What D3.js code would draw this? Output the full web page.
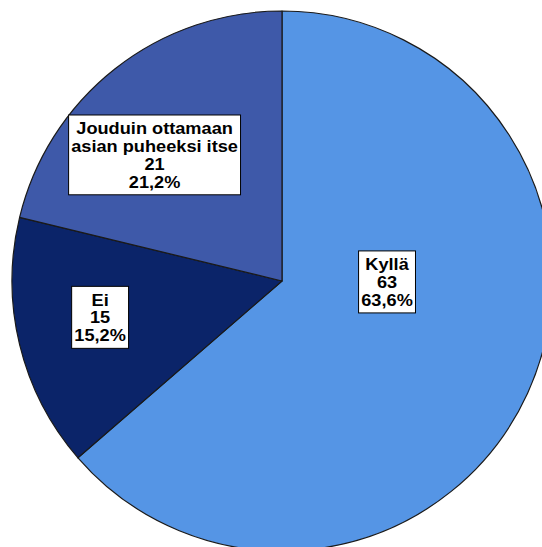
<!DOCTYPE html>
<html>
<head>
<meta charset="utf-8">
<script src="https://cdn.jsdelivr.net/npm/d3@7"></script>
<style>
  html, body { margin: 0; padding: 0; background: #fff; }
  svg { display: block; }
</style>
</head>
<body>
<svg id="chart" width="542" height="547"></svg>
<script>
// Answers and counts
const categories = ["Kyllä", "Ei", "Jouduin ottamaan asian puheeksi itse"];
const counts = [63, 15, 21];
const percentLabels = ["63,6%", "15,2%", "21,2%"];
const labelLines = [["Kyllä"], ["Ei"], ["Jouduin ottamaan", "asian puheeksi itse"]];

// Slice fills
const colors = d3.scaleOrdinal()
  .domain(categories)
  .range(["#5595e5", "#0b2469", "#3e59a9"]);

// Label anchor: angle (degrees clockwise from top) and fraction of radius
const labelPlacement = {
  "Kyllä": { angle: 90.5, frac: 0.389 },
  "Ei": { angle: 258.7, frac: 0.687 },
  "Jouduin ottamaan asian puheeksi itse": { angle: 314.7, frac: 0.664 }
};

const svg = d3.select("#chart");
const cx = 282, cy = 281, radius = 270;

const data = categories.map((c, i) => ({ category: c, value: counts[i], pct: percentLabels[i], lines: labelLines[i] }));

const pie = d3.pie().value(d => d.value).sort(null);
const arc = d3.arc().innerRadius(0).outerRadius(radius);

const g = svg.append("g").attr("transform", `translate(${cx},${cy})`);

g.selectAll("path.slice")
  .data(pie(data))
  .join("path")
  .attr("class", "slice")
  .attr("d", arc)
  .attr("fill", d => colors(d.data.category))
  .attr("stroke", "#1a1a1a")
  .attr("stroke-width", 1.2)
  .attr("stroke-linejoin", "round");

// Labels in white boxes
const fontSize = 17;
const lineH = 17.8;
const stretchX = 1.07;
const labels = g.selectAll("g.label")
  .data(pie(data))
  .join("g")
  .attr("class", "label")
  .attr("transform", d => {
    const p = labelPlacement[d.data.category];
    const a = p.angle * Math.PI / 180;
    const r = p.frac * radius;
    return `translate(${r * Math.sin(a)},${-r * Math.cos(a)})`;
  });

labels.each(function(d) {
  const sel = d3.select(this);
  const lines = [...d.data.lines, String(d.data.value), d.data.pct];
  const n = lines.length;
  const box = sel.append("rect")
    .attr("fill", "#fff")
    .attr("stroke", "#000")
    .attr("stroke-width", 1);
  const text = sel.append("text")
    .attr("text-anchor", "middle")
    .attr("transform", `scale(${stretchX},1)`)
    .attr("font-family", "Arial, 'Liberation Sans', sans-serif")
    .attr("font-weight", "bold")
    .attr("font-size", fontSize + "px")
    .attr("fill", "#000");
  lines.forEach((t, i) => {
    text.append("tspan")
      .attr("x", 0)
      .attr("y", (i - (n - 1) / 2) * lineH)
      .attr("dy", "0.36em")
      .text(t);
  });
  const bb = text.node().getBBox();
  const w = bb.width * stretchX;
  const padX = 2.5, padY = 4.3;
  box.attr("x", -w / 2 - padX)
    .attr("y", -(n * lineH) / 2 - padY)
    .attr("width", w + 2 * padX)
    .attr("height", n * lineH + 2 * padY);
});
</script>
</body>
</html>
